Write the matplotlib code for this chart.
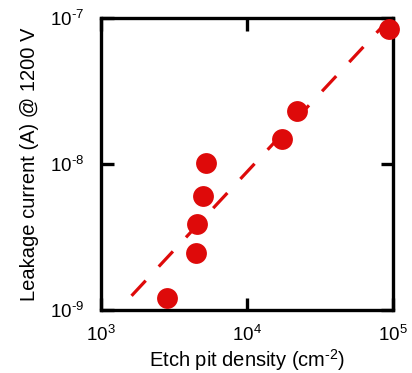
import matplotlib
matplotlib.use("Agg")
import matplotlib.pyplot as plt
from matplotlib.ticker import FixedLocator, FixedFormatter, NullLocator

plt.rcParams['font.family'] = ['Liberation Sans', 'DejaVu Sans']
plt.rcParams['mathtext.fontset'] = 'custom'
plt.rcParams['mathtext.rm'] = 'Liberation Sans'
plt.rcParams['mathtext.it'] = 'Liberation Sans:italic'
plt.rcParams['mathtext.bf'] = 'Liberation Sans:bold'

# Data
etch_pit_density = [2820, 4460, 4570, 5020, 5240, 17500, 22100, 94400]
leakage_current = [1.2e-9, 2.47e-9, 3.9e-9, 6.0e-9, 1.02e-8, 1.49e-8, 2.31e-8, 8.4e-8]
fit_x = [1620, 97700]
fit_y = [1.25e-9, 1.02e-7]
x_ticks = [1e3, 1e4, 1e5]
x_tick_labels = ['10$^{3}$', '10$^{4}$', '10$^{5}$']
y_ticks = [1e-9, 1e-8, 1e-7]
y_tick_labels = ['10$^{\\text{-}9}$', '10$^{\\text{-}8}$', '10$^{\\text{-}7}$']

red = '#de0a0a'

fig = plt.figure(figsize=(4.12, 3.73), dpi=100)
ax = fig.add_axes([0.245, 0.169, 0.709, 0.783])

ax.plot(fit_x, fit_y, color=red, lw=2.3, dashes=(6.5, 6), dash_capstyle='butt', zorder=2)
ax.plot(etch_pit_density, leakage_current, 'o', color=red, ms=15, mec='none', zorder=3, clip_on=False)

ax.set_xscale('log')
ax.set_yscale('log')
ax.set_xlim(1e3, 1e5)
ax.set_ylim(1e-9, 1e-7)

ax.xaxis.set_major_locator(FixedLocator(x_ticks))
ax.xaxis.set_major_formatter(FixedFormatter(x_tick_labels))
ax.yaxis.set_major_locator(FixedLocator(y_ticks))
ax.yaxis.set_major_formatter(FixedFormatter(y_tick_labels))
ax.xaxis.set_minor_locator(NullLocator())
ax.yaxis.set_minor_locator(NullLocator())

for s in ax.spines.values():
    s.set_linewidth(2.4)
ax.tick_params(which='major', direction='in', length=9, width=2.4,
               top=True, right=True, labelsize=13.5)
ax.tick_params(axis='x', pad=11)
ax.tick_params(axis='y', pad=12)

ax.set_xlabel('Etch pit density (cm$^{\\text{-}2}$)', fontsize=14.5, labelpad=1)
ax.set_ylabel('Leakage current (A) @ 1200 V', fontsize=14.5, labelpad=8)

fig.savefig('out.png', dpi=100)
